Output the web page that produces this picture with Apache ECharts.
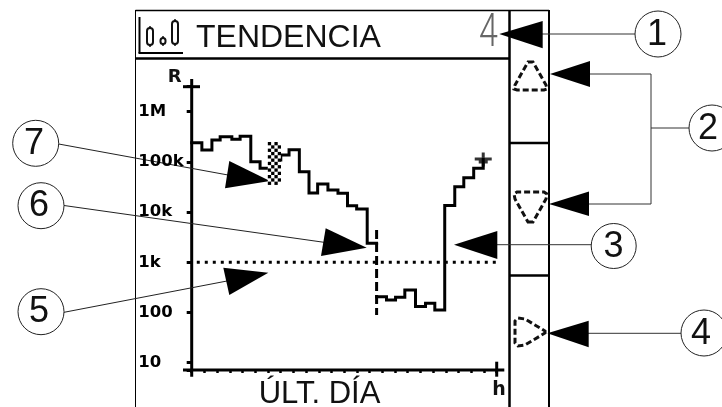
<!DOCTYPE html>
<html><head><meta charset="utf-8">
<style>html,body{margin:0;padding:0;background:#fff}#c{width:722px;height:407px}</style>
<script src="https://cdn.jsdelivr.net/npm/echarts@6/dist/echarts.min.js"></script>
</head><body><div id="c"></div>
<script>
const titleText = 'TENDENCIA';
const periodText = 'ÚLT. DÍA';
const rangeText = '4';
const yAxisName = 'R';
const xAxisName = 'h';
const tickLabels = {10:'10',100:'100',1000:'1k',10000:'10k',100000:'100k',1000000:'1M'};

// Trend before the event (hours, ohms)
const hoursBefore = [0,0.80,1.59,2.24,3.16,3.81,4.65,5.38,6.17,7.01,7.66,8.47,9.23,9.91,10.72,11.51,12.26,12.98,13.81,14.55];
const ohmsBefore  = [241000,172600,273000,318000,282000,324000,101000,74600,109000,137000,175000,63800,24000,36300,27500,23700,13400,11500,2390,2390];
// Trend after the event
const hoursAfter = [14.55,15.33,16.04,16.77,17.61,18.40,19.13,19.91,20.70,21.41,22.19,22.94];
const ohmsAfter  = [206,177,201,281,131,153,112,13500,32100,48400,74600,112000];

const limitOhms = 1000;
const limitHours = [0.4,24];
const eventHour = 14.55;
const eventOhms = [4400,89];
const cursorPoint = [22.94,112000];
const lowBatHours = [5.99,7.01];
const lowBatOhms = [249000,34700];

const black = '#000';
function pairs(a,b){return a.map((v,i)=>[v,b[i]]);}
function seg(x1,y1,x2,y2,w,col){return {type:'line',silent:true,shape:{x1,y1,x2,y2},style:{stroke:col||black,lineWidth:w||1}};}
function tri(points){return {type:'polygon',silent:true,shape:{points},style:{fill:black}};}
function circ(cx,cy,r){return {type:'circle',silent:true,shape:{cx,cy,r},style:{fill:'#fff',stroke:'#222',lineWidth:1}};}
function txt(x,y,t,size,opt,el){return Object.assign({type:'text',silent:true,x,y,style:Object.assign({text:t,fontFamily:'Liberation Sans',fontSize:size,fill:'#111',textAlign:'center',textVerticalAlign:'middle'},opt||{})},el||{});}
function dashPoly(points,w){return {type:'polygon',silent:true,shape:{points},style:{fill:null,stroke:'#111',lineWidth:w||3,lineDash:[6,3]}};}
function pill(x,y,w,h){return [
  {type:'rect',silent:true,shape:{x,y,width:w,height:h,r:w/2},style:{fill:null,stroke:'#111',lineWidth:2}},
  seg(x+w/2,y-2,x+w/2,y,1.5,'#111'), seg(x+w/2,y+h,x+w/2,y+h+2,1.5,'#111')];}

const graphicEls = [
  // frame
  seg(135.5,10.5,549,10.5,1.5), seg(135.5,10,135.5,407,1), seg(509.5,10,509.5,407,2.5), seg(549,10,549,407,2),
  seg(136,58.5,509,58.5,2.5), seg(509,143,549,143,2.5), seg(509,275.5,549,275.5,2.5),
  // icon
  seg(139.5,17,139.5,53,2), seg(138.5,53,183,53,2),
  ...pill(147,28,6,17), ...pill(160.5,38,5,6), ...pill(172,21,6,23),
  // text
  txt(196,38.5,titleText,32,{textAlign:'left'}),
  txt(319.5,394,periodText,31),
  txt(488.5,34,rangeText,46,{fontFamily:'Roboto',fontWeight:300,fill:'#666'},{scaleX:0.74}),
  // axis crosses and ends
  seg(183,86.7,200,86.7,3), seg(191.7,79,191.7,376.7,3),
  seg(183,370,504.3,370,3), seg(496.7,361.7,496.7,376.7,3),
  // softkey icons
  dashPoly([[528,62],[533,62],[546,85],[547,89],[544,90],[517,90],[514,89],[515,85]]),
  dashPoly([[528,222],[533,222],[546,199],[547,194],[544,192],[517,192],[514,194],[515,199]]),
  dashPoly([[545,331],[545,333],[525,345],[518,346],[515,343],[515,321],[518,318],[525,319]]),
  // leaders
  seg(542,34,635,34,1,'#333'),
  seg(589,74,651,74,1,'#333'), seg(651,74,651,204,1,'#333'), seg(589,204,651,204,1,'#333'), seg(651,128,689,128,1,'#333'),
  seg(497,244.7,591,244.7,1,'#333'), seg(588,333.3,681,333.3,1,'#333'),
  seg(64,312.3,227,281,1,'#222'), seg(64,205.5,324,242.3,1,'#222'), seg(58.7,144,228,175,1,'#222'),
  // arrows
  tri([[499.3,34],[542.7,21],[542.7,48.3]]),
  tri([[550,74],[590,61],[590,87]]),
  tri([[549,204],[589,191.5],[589,216]]),
  tri([[454,244.7],[497.3,231],[497.3,259]]),
  tri([[547.3,333.3],[588.7,320.7],[588.7,347.3]]),
  tri([[223.3,267.7],[268.3,272.7],[229.3,295]]),
  tri([[325.7,228.3],[366.7,247.7],[321,256]]),
  tri([[229.3,161],[270,181],[225,188.3]]),
  // callouts
  circ(658,34,23), circ(712,128,23), circ(613.7,246,22.5), circ(704,333,23),
  circ(41,311.7,23), circ(41,205.7,23), circ(35.7,143.3,23),
  txt(657,35,'1',36), txt(708,129,'2',36), txt(613.5,247,'3',36), txt(701,334,'4',36),
  txt(39,312.5,'5',36), txt(39,206.5,'6',36), txt(34,144,'7',36)
];

const chart = echarts.init(document.getElementById('c'), null, {renderer:'canvas'});
chart.setOption({
  animation:false,
  backgroundColor:'#fff',
  grid:{left:191.7,top:86.7,width:305,height:283.3,containLabel:false},
  xAxis:{type:'value',min:0,max:24,interval:1,
    name:xAxisName,nameLocation:'end',nameGap:0,
    nameTextStyle:{fontFamily:'DejaVu Sans',fontWeight:'bold',fontSize:19,color:'#111',align:'right',verticalAlign:'top',padding:[11,-9,0,0]},
    axisLine:{show:false},
    axisTick:{show:true,length:3,inside:false,lineStyle:{color:black,width:2.5}},
    axisLabel:{show:false},splitLine:{show:false}},
  yAxis:{type:'log',logBase:10,min:7.155,max:3150000,
    name:yAxisName,nameLocation:'end',nameGap:0,
    nameTextStyle:{fontFamily:'DejaVu Sans',fontWeight:'bold',fontSize:18,color:'#111',align:'right',verticalAlign:'bottom',padding:[0,10,0,0]},
    axisLine:{show:false},
    axisTick:{show:true,length:5,lineStyle:{color:black,width:3}},
    axisLabel:{show:true,align:'left',margin:53.5,padding:[3,0,0,0],fontFamily:'DejaVu Sans',fontWeight:'bold',fontSize:16.5,color:'#000',
      formatter:v=>{const k=Math.round(v);return tickLabels[k]&&Math.abs(v-k)<0.01?tickLabels[k]:'';}},
    splitLine:{show:false},minorTick:{show:false}},
  graphic:{elements:graphicEls},
  series:[
    {type:'line',name:'limit',data:limitHours.map(h=>[h,limitOhms]),showSymbol:false,silent:true,z:2,
      lineStyle:{color:black,width:3,type:[3,5]}},
    {type:'line',name:'event',data:eventOhms.map(o=>[eventHour,o]),showSymbol:false,silent:true,z:3,
      lineStyle:{color:black,width:3,type:[9,4]}},
    {type:'line',name:'before',step:'end',data:pairs(hoursBefore,ohmsBefore),showSymbol:false,silent:true,z:4,
      lineStyle:{color:black,width:3,cap:'square',join:'miter'}},
    {type:'line',name:'after',step:'end',data:pairs(hoursAfter,ohmsAfter),showSymbol:false,silent:true,z:4,
      lineStyle:{color:black,width:3,cap:'square',join:'miter'}},
    {type:'scatter',name:'cursor',data:[cursorPoint],silent:true,z:5,symbolSize:[17,14],
      symbol:'path://M7 0h3v5h7v3h-4v3h-3v3h-3v-3h-3v-3h-4v-3h7z',itemStyle:{color:black}},
    {type:'custom',name:'low',silent:true,z:6,coordinateSystem:'cartesian2d',clip:false,
      data:[[lowBatHours[0],lowBatOhms[0],lowBatHours[1],lowBatOhms[1]]],
      renderItem:function(p,api){
        const a=api.coord([api.value(0),api.value(1)]), b=api.coord([api.value(2),api.value(3)]);
        const cell=3.3, kids=[{type:'rect',shape:{x:a[0],y:a[1],width:b[0]-a[0],height:b[1]-a[1]},style:{fill:'#fff'}}];
        const nx=Math.round((b[0]-a[0])/cell), ny=Math.round((b[1]-a[1])/cell);
        for(let j=0;j<ny;j++)for(let i=0;i<nx;i++){ if((i+j)%2===0) kids.push({type:'rect',shape:{x:a[0]+i*cell,y:a[1]+j*cell,width:cell,height:cell},style:{fill:'#000'}}); }
        return {type:'group',children:kids};
      }}
  ]
});
</script></body></html>
